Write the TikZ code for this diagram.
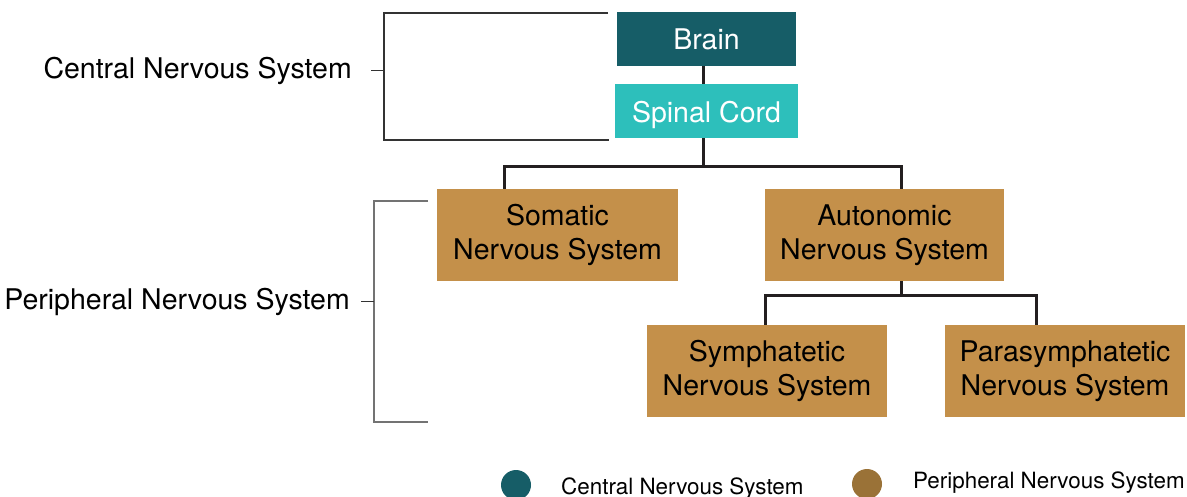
\documentclass[tikz,border=0pt]{standalone}
\usepackage{fontspec}
\setmainfont{TeX Gyre Heros}
\definecolor{cnsdark}{HTML}{165D67}
\definecolor{cnslight}{HTML}{2DBFBB}
\definecolor{pnsbox}{HTML}{C4904A}
\definecolor{pnsdot}{HTML}{9A7237}
\definecolor{linkcol}{HTML}{231F20}
\tikzset{
  box/.style={rectangle, inner sep=0pt, align=center, font=\fontsize{28.5}{34}\selectfont},
  link/.style={draw=linkcol, line width=3pt},
  bracket/.style={draw=#1, line width=1.4pt},
  sidelabel/.style={anchor=east, inner sep=0pt, font=\fontsize{28.5}{34}\selectfont},
  keylabel/.style={anchor=west, inner sep=0pt, font=\fontsize{22.4}{26}\selectfont},
}
\begin{document}
\begin{tikzpicture}[x=1pt,y=-1pt]
\useasboundingbox (0,0) rectangle (1187,497);

% central nervous system
\node[box, fill=cnsdark, text=white, minimum width=179pt, minimum height=54pt] (brain) at (706.5,39) {Brain};
\node[box, fill=cnslight, text=white, minimum width=183pt, minimum height=54pt] (spinal) at (706.5,111) {\raisebox{-4pt}[\height][\depth]{Spinal Cord}};

% peripheral nervous system
\node[box, fill=pnsbox, minimum width=241pt, minimum height=92pt] (somatic) at (557.5,235) {Somatic\\Nervous System};
\node[box, fill=pnsbox, minimum width=239pt, minimum height=92pt] (autonomic) at (884.5,235) {Autonomic\\Nervous System};
\node[box, fill=pnsbox, minimum width=240pt, minimum height=92pt] (symp) at (767,371) {Symphatetic\\Nervous System};
\node[box, fill=pnsbox, minimum width=240pt, minimum height=92pt] (para) at (1065,371) {Parasymphatetic\\Nervous System};

% links
\path
  (703,167) coordinate (splitA)
  (504,189) coordinate (somIn)
  (901,189) coordinate (autIn)
  (901,296) coordinate (splitB)
  (765,325) coordinate (sympIn)
  (1036,325) coordinate (paraIn)
  ;
\draw[link] (brain.south -| splitA) -- (spinal.north -| splitA);
\draw[link] (spinal.south -| splitA) -- (splitA);
\draw[link] (somIn) |- (splitA) -| (autIn);
\draw[link] (autonomic.south -| splitB) -- (splitB);
\draw[link] (sympIn) |- (splitB) -| (paraIn);

% brackets
\node[sidelabel] (cnslabel) at (352,71) {Central Nervous System};
\node[sidelabel] (pnslabel) at (350,302) {Peripheral Nervous System};
\path
  (384,71) coordinate (cnsMid)
  (371,71) coordinate (cnsTick)
  (608,13) coordinate (cnsTop)
  (609,140) coordinate (cnsBot)
  (374,302) coordinate (pnsMid)
  (361,302) coordinate (pnsTick)
  (428,201) coordinate (pnsTop)
  (428,422) coordinate (pnsBot)
  ;
\draw[bracket=black!80] (cnsTop) -- (cnsTop -| cnsMid) -- (cnsBot -| cnsMid) -- (cnsBot);
\draw[bracket=black!80, line width=1pt] (cnsTick) -- (cnsMid);
\draw[bracket=black!55] (pnsTop) -- (pnsTop -| pnsMid) -- (pnsBot -| pnsMid) -- (pnsBot);
\draw[bracket=black!80, line width=1pt] (pnsTick) -- (pnsMid);

% legend
\node[circle, fill=cnsdark, minimum size=30pt, inner sep=0pt] (cnsdot) at (516,485) {};
\node[keylabel] (cnskey) at (561,489) {Central Nervous System};
\node[circle, fill=pnsdot, minimum size=30pt, inner sep=0pt] (pnsdot) at (867,484) {};
\node[keylabel] (pnskey) at (913,483) {Peripheral Nervous System};
\end{tikzpicture}
\end{document}
